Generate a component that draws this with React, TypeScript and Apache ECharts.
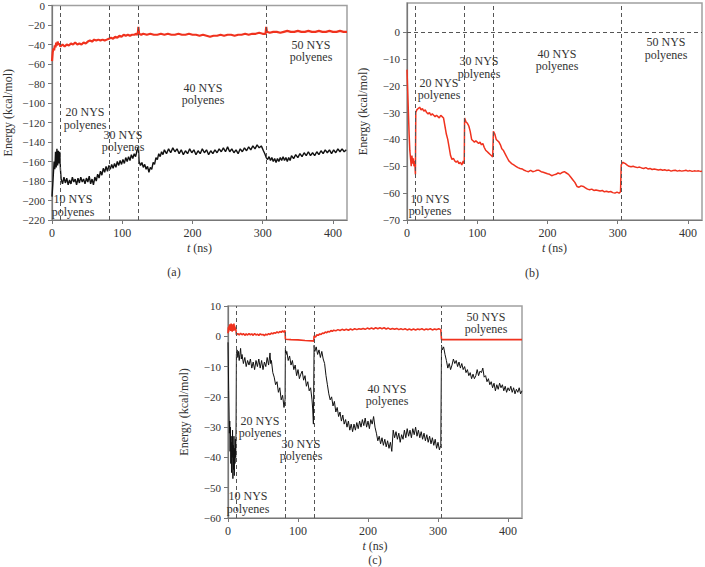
import React, { useEffect, useRef } from "react";
import * as echarts from "echarts";

// phase boundaries (ns) where new NYS polyenes are added
const phaseBoundaries = [12, 82, 123, 305];
const xTickValues = [0, 100, 200, 300, 400];

// Panel (a): red series (upper) and black series (lower), energy kcal/mol
const aRed: number[][] = [
  [0, -57], [1, -48], [2, -44], [3, -46], [4, -41], [5, -43], [6, -38], [7, -41], [8, -37], [9, -40], [10, -39],
  [12, -42], [15, -40], [18, -42], [21, -40], [24, -41], [27, -39], [30, -40], [33, -38], [36, -40], [39, -39],
  [42, -40], [45, -38], [48, -39], [51, -37], [54, -36], [57, -37], [60, -35], [63, -36], [66, -35], [69, -36],
  [72, -35], [75, -36], [78, -35], [81, -34], [84, -33], [87, -34], [90, -32], [93, -33], [96, -31], [99, -32],
  [102, -30], [105, -31], [108, -30], [111, -31], [114, -30], [117, -30], [120, -29], [122, -30], [123, -22],
  [124, -29], [127, -30], [130, -29], [135, -30], [140, -29], [145, -30], [150, -30], [155, -29], [160, -30],
  [165, -29], [170, -30], [175, -30], [180, -29], [185, -30], [190, -30], [195, -29], [200, -30], [205, -30],
  [210, -31], [215, -30], [220, -31], [225, -32], [230, -31], [235, -31], [240, -30], [245, -31], [250, -30],
  [255, -30], [260, -31], [265, -30], [270, -30], [275, -29], [280, -30], [285, -29], [290, -29], [295, -28],
  [300, -29], [304, -29], [305, -22], [306, -27], [310, -28], [315, -27], [320, -27], [325, -28], [330, -27],
  [335, -26], [340, -27], [345, -27], [350, -26], [355, -27], [360, -27], [365, -26], [370, -27], [375, -27],
  [380, -26], [385, -27], [390, -27], [395, -26], [400, -27], [405, -27], [410, -26], [415, -27], [420, -27],
];

const aBlack: number[][] = [
  [0, -196], [1, -185], [2, -172], [3, -160], [4, -168], [5, -150], [6, -166], [7, -147], [8, -164], [9, -149],
  [10, -162], [11, -150], [12, -168], [13, -178], [15, -183], [17, -176], [19, -182], [21, -177], [23, -184],
  [25, -179], [27, -183], [29, -176], [31, -181], [33, -178], [35, -184], [37, -177], [39, -182], [41, -176],
  [43, -181], [45, -178], [47, -183], [49, -177], [51, -181], [53, -175], [55, -183], [57, -178], [59, -184],
  [61, -176], [63, -180], [65, -173], [67, -177], [69, -170], [71, -174], [73, -167], [75, -171], [77, -165],
  [79, -170], [81, -164], [83, -168], [85, -163], [87, -167], [89, -162], [91, -166], [93, -160], [95, -164],
  [97, -159], [99, -163], [101, -158], [103, -162], [105, -156], [107, -160], [109, -155], [111, -159],
  [113, -153], [115, -157], [117, -152], [119, -155], [121, -149], [123, -145], [124, -160], [126, -164],
  [128, -161], [130, -166], [132, -163], [134, -168], [136, -165], [138, -171], [140, -166], [142, -168],
  [144, -161], [146, -163], [148, -156], [150, -158], [152, -152], [154, -155], [156, -150], [158, -153],
  [160, -148], [163, -152], [166, -147], [169, -151], [172, -146], [175, -150], [178, -147], [181, -152],
  [184, -148], [187, -153], [190, -149], [193, -152], [196, -147], [199, -151], [202, -148], [205, -153],
  [208, -149], [211, -152], [214, -147], [217, -151], [220, -148], [223, -153], [226, -149], [229, -152],
  [232, -148], [235, -151], [238, -147], [241, -150], [244, -146], [247, -150], [250, -145], [253, -150],
  [256, -147], [259, -151], [262, -148], [265, -152], [268, -147], [271, -150], [274, -146], [277, -149],
  [280, -145], [283, -148], [286, -144], [289, -147], [292, -143], [295, -146], [298, -144], [301, -149],
  [303, -152], [305, -156], [307, -158], [309, -155], [311, -159], [313, -156], [315, -160], [317, -157],
  [319, -161], [321, -157], [323, -160], [325, -156], [327, -159], [329, -155], [331, -159], [333, -156],
  [335, -160], [337, -156], [339, -159], [341, -154], [344, -157], [347, -153], [350, -156], [353, -152],
  [356, -155], [359, -151], [362, -154], [365, -150], [368, -154], [371, -151], [374, -154], [377, -150],
  [380, -153], [383, -149], [386, -152], [389, -148], [392, -151], [395, -148], [398, -152], [401, -148],
  [404, -151], [407, -147], [410, -150], [413, -147], [416, -150], [419, -148],
];

// Panel (b): red series
const bRed: number[][] = [
  [0, -14], [1, -22], [2, -30], [3, -38], [4, -44], [5, -47], [6, -50], [7, -46], [8, -49], [9, -47], [10, -50],
  [11, -48], [12, -53], [12.5, -30], [14, -29], [16, -28.5], [18, -28], [20, -29], [22, -28.5], [24, -29.5],
  [26, -29], [28, -30], [30, -30.5], [32, -30], [34, -31], [36, -30.5], [38, -31], [40, -31.5], [42, -31],
  [44, -31.5], [46, -32], [48, -31], [50, -31.5], [52, -32], [54, -35], [56, -38], [58, -40], [60, -43],
  [62, -46], [64, -47.5], [66, -47], [68, -48], [70, -48.5], [72, -48], [74, -49], [76, -48.5], [78, -49.5],
  [80, -48], [81.5, -49], [82, -32], [84, -33.5], [86, -34], [88, -35], [90, -37], [92, -40], [94, -40.5],
  [96, -41], [98, -40.5], [100, -41], [102, -41.5], [104, -41], [106, -42], [108, -41.5], [110, -43],
  [112, -44], [114, -44.5], [116, -45], [118, -45.5], [120, -46], [122, -46.5], [123, -37], [125, -38],
  [127, -40], [129, -40.5], [131, -41], [133, -42], [135, -43.5], [137, -44], [139, -45], [141, -46],
  [143, -47], [145, -48], [147, -48.5], [149, -49], [152, -49.5], [155, -50], [158, -50.5], [161, -50.8],
  [164, -51], [167, -51.5], [170, -51.8], [173, -52], [176, -51.5], [179, -52], [182, -51.8], [185, -51.5],
  [188, -51.5], [191, -52], [194, -52.2], [197, -52.5], [200, -52.8], [203, -53], [206, -53.5], [209, -53.2],
  [212, -53], [215, -52.5], [218, -52.8], [221, -52.3], [224, -52], [227, -52.5], [230, -53], [233, -54],
  [236, -55], [239, -56], [242, -57.5], [245, -57.8], [248, -57.3], [251, -57.5], [254, -58], [257, -58.5],
  [260, -58.7], [263, -58.5], [266, -59], [269, -58.8], [272, -59], [275, -59.2], [278, -59], [281, -59.5],
  [284, -59.3], [287, -59.6], [290, -59.4], [293, -59.8], [296, -60], [299, -59.6], [302, -60], [304, -59.5],
  [305, -49.5], [307, -48.5], [309, -48.8], [311, -49], [313, -49.5], [316, -50], [319, -50.2], [322, -50],
  [325, -50.3], [328, -50.5], [331, -50.3], [334, -50.6], [337, -50.8], [340, -50.5], [343, -51], [346, -50.8],
  [349, -51.2], [352, -51], [355, -51.2], [358, -51.4], [361, -51.2], [364, -51.5], [367, -51.3], [370, -51.6],
  [373, -51.4], [376, -51.8], [379, -51.6], [382, -51.5], [385, -51.8], [388, -51.6], [391, -51.8],
  [394, -51.7], [397, -51.5], [400, -51.8], [403, -51.6], [406, -51.9], [409, -51.7], [412, -51.8],
  [415, -51.7], [418, -51.9], [420, -51.8],
];

// Panel (c): red and black series
const cRed: number[][] = [
  [0, 1], [0.5, 3], [1, 1.5], [1.5, 3.5], [2, 2], [2.5, 4], [3, 2], [3.5, 3.8], [4, 1.8], [4.5, 4.2], [5, 2],
  [5.5, 3.5], [6, 1.5], [6.5, 4], [7, 2.2], [7.5, 3.8], [8, 1.8], [8.5, 4.2], [9, 2.5], [9.5, 3.5], [10, 2],
  [11, 3], [12, 0.5], [14, 0.9], [16, 0.4], [18, 1], [20, 0.5], [22, 0.9], [24, 0.3], [26, 0.8], [28, 0.4],
  [30, 0.9], [32, 0.5], [34, 0.8], [36, 0.3], [38, 0.9], [40, 0.4], [42, 0.7], [44, 0.3], [46, 0.8], [48, 0.5],
  [50, 0.6], [52, 0.2], [54, 0.7], [56, 0.4], [58, 0.9], [60, 0.6], [62, 1.1], [64, 0.8], [66, 1.2], [68, 1],
  [70, 1.5], [72, 1.1], [74, 1.6], [76, 1.3], [78, 1.8], [80, 1.4], [81.5, 1.9], [82, -1], [90, -1.1],
  [100, -1.2], [110, -1.4], [120, -1.5], [122.5, -1.6], [123, 0.2], [125, -0.3], [127, 0.5], [129, 0.3],
  [131, 0.8], [133, 0.6], [135, 1.1], [137, 0.9], [139, 1.4], [141, 1.2], [143, 1.6], [145, 1.4], [147, 1.9],
  [149, 1.6], [151, 2], [154, 1.8], [157, 2.2], [160, 1.9], [163, 2.3], [166, 2], [169, 2.3], [172, 2],
  [175, 2.4], [178, 2.1], [181, 2.5], [184, 2.2], [187, 2.5], [190, 2.3], [193, 2.6], [196, 2.3], [199, 2.7],
  [202, 2.4], [205, 2.7], [208, 2.4], [211, 2.8], [214, 2.5], [217, 2.8], [220, 2.5], [223, 2.8], [226, 2.4],
  [229, 2.7], [232, 2.3], [235, 2.6], [238, 2.3], [241, 2.6], [244, 2.2], [247, 2.5], [250, 2.2], [253, 2.5],
  [256, 2.1], [259, 2.4], [262, 2.1], [265, 2.4], [268, 2.1], [271, 2.4], [274, 2.2], [277, 2.5], [280, 2.1],
  [283, 2.4], [286, 2.2], [289, 2.5], [292, 2.1], [295, 2.4], [298, 2.2], [301, 2.5], [304, 2.2], [305, -1.1],
  [420, -1.1],
];

const cBlack: number[][] = [
  [0, -2], [0.5, -10], [1, -18], [1.5, -25], [2, -32], [2.5, -28], [3, -38], [3.5, -30], [4, -42], [4.5, -33],
  [5, -45], [5.5, -35], [6, -40], [6.5, -31], [7, -47], [7.5, -36], [8, -44], [8.5, -33], [9, -46], [9.5, -37],
  [10, -42], [10.5, -34], [11, -40], [11.5, -30], [12, -6], [13, -4.5], [14, -7], [15, -5], [16, -8], [17, -6],
  [18, -4], [19, -7.5], [20, -6], [22, -9], [24, -7], [26, -10], [28, -8], [30, -9.5], [32, -7.5], [34, -10.5],
  [36, -8.5], [38, -11], [40, -8], [42, -10], [44, -7.5], [46, -10.5], [48, -8], [50, -11], [52, -8.5],
  [54, -10], [56, -7], [58, -9.5], [60, -5.5], [61, -9], [62, -8], [64, -12], [66, -13.5], [68, -16], [70, -15],
  [72, -18.5], [74, -17], [76, -21], [78, -19.5], [80, -23.5], [81.5, -21], [82, -4], [83, -6], [84, -5],
  [86, -8], [88, -6.5], [90, -9.5], [92, -8], [94, -11], [96, -9.5], [98, -13], [100, -11], [102, -14],
  [104, -12.5], [106, -11.5], [108, -14.5], [110, -13], [112, -16.5], [114, -15], [116, -18], [118, -17],
  [120, -21], [121, -24], [122, -29], [123, -3], [124, -5], [126, -3.5], [128, -6], [130, -4.5], [132, -7],
  [134, -5], [136, -7.5], [138, -9], [140, -13], [142, -16], [144, -19], [146, -21], [148, -20], [150, -23],
  [152, -21.5], [154, -25], [156, -23.5], [158, -26.5], [160, -25], [162, -28], [164, -26], [166, -29],
  [168, -27.5], [170, -30], [172, -28], [174, -31], [176, -29], [178, -31.5], [180, -29], [182, -31],
  [184, -28.5], [186, -30.5], [188, -28], [190, -30], [192, -27.5], [194, -29.5], [196, -27], [198, -30],
  [200, -28], [202, -30.5], [204, -27.5], [206, -29], [208, -26.5], [210, -30], [212, -32], [214, -34.5],
  [216, -33], [218, -35.5], [220, -33.5], [222, -36], [224, -34], [226, -36.5], [228, -34.5], [230, -37],
  [232, -35], [234, -38], [236, -31], [238, -33.5], [240, -31.5], [242, -34], [244, -32], [246, -35],
  [248, -32.5], [250, -34], [252, -31], [254, -33.5], [256, -30.5], [258, -33], [260, -31], [262, -33.5],
  [264, -30.5], [266, -32.5], [268, -30], [270, -33], [272, -31], [274, -33.5], [276, -31.5], [278, -34],
  [280, -32], [282, -34.5], [284, -32.5], [286, -35], [288, -33], [290, -35.5], [292, -33.5], [294, -36],
  [296, -34], [298, -37], [300, -35], [302, -37.5], [304, -36], [305, -3], [306, -4.5], [308, -3.5], [310, -6],
  [312, -8], [314, -10.5], [316, -9], [318, -11], [320, -9.5], [322, -7.5], [324, -9], [326, -8], [328, -10],
  [330, -8.5], [332, -10.5], [334, -9], [336, -11], [338, -10], [340, -12], [342, -11], [344, -13], [346, -12],
  [348, -14], [350, -12.5], [352, -14], [354, -13], [356, -11], [358, -13], [360, -11.5], [362, -12],
  [364, -10.5], [366, -13.5], [368, -13], [370, -15], [372, -14], [374, -16], [376, -15], [378, -17],
  [380, -15.5], [382, -18], [384, -16], [386, -17.5], [388, -15.5], [390, -17], [392, -16], [394, -18],
  [396, -16.5], [398, -18.5], [400, -17], [402, -18], [404, -16.5], [406, -18.5], [408, -17], [410, -19],
  [412, -17.5], [414, -18.5], [416, -17], [418, -19], [420, -18],
];

const phaseLabels = ["10 NYS\npolyenes", "20 NYS\npolyenes", "30 NYS\npolyenes", "40 NYS\npolyenes", "50 NYS\npolyenes"];
const yTicksA = [-220, -200, -180, -160, -140, -120, -100, -80, -60, -40, -20, 0];
const yTicksB = [-70, -60, -50, -40, -30, -20, -10, 0];
const yTicksC = [-60, -50, -40, -30, -20, -10, 0, 10];

const SERIF = "'Liberation Serif', 'DejaVu Serif', serif";
const RED = "#f0321e";
const BLACK = "#111111";

export default function App() {
  const ref = useRef<HTMLDivElement>(null);
  useEffect(() => {
    if (!ref.current) return;
    const chart = echarts.init(ref.current, undefined, { renderer: "svg" });
    const fmt = (v: number) => (v < 0 ? "\u2212" + Math.abs(v) : String(v));
    const grids = [
      { left: 52, top: 5, width: 295, height: 215 },
      { left: 407, top: 3, width: 295, height: 217 },
      { left: 228, top: 306, width: 294, height: 212 },
    ];
    const yTicks = [yTicksA, yTicksB, yTicksC];
    const yRanges = [[-220, 0], [-70, 10.8], [-60, 10]];
    const yIntervals = [20, 10, 10];
    const xAxes = grids.map((_, i) => ({
      type: "value",
      gridIndex: i,
      min: 0,
      max: 420,
      interval: 100,
      name: "{i|t} (ns)",
      nameLocation: "middle",
      nameGap: 22,
      nameTextStyle: {
        fontFamily: SERIF, fontSize: 12, color: "#333",
        rich: { i: { fontFamily: SERIF, fontSize: 12, fontStyle: "italic", color: "#333" } },
      },
      axisLine: { show: true, onZero: false, lineStyle: { color: "#777", width: 1.2 } },
      axisTick: { show: true, inside: false, length: 4, customValues: xTickValues, lineStyle: { color: "#777" } },
      axisLabel: { customValues: xTickValues, fontFamily: SERIF, fontSize: 12, color: "#333", margin: 7 },
      splitLine: { show: false },
    }));
    const yAxes = grids.map((_, i) => ({
      type: "value",
      gridIndex: i,
      min: yRanges[i][0],
      max: yRanges[i][1],
      interval: yIntervals[i],
      name: "Energy (kcal/mol)",
      nameLocation: "middle",
      nameGap: 38,
      nameTextStyle: { fontFamily: SERIF, fontSize: 12, color: "#333" },
      axisLine: { show: true, onZero: false, lineStyle: { color: "#777", width: 1.2 } },
      axisTick: { show: true, inside: false, length: 4, customValues: yTicks[i], lineStyle: { color: "#777" } },
      axisLabel: { customValues: yTicks[i], formatter: fmt, fontFamily: SERIF, fontSize: 11, color: "#333", margin: 7 },
      splitLine: { show: false },
    }));
    const vLines = (extra: any[] = []) => ({
      silent: true,
      symbol: "none",
      label: { show: false },
      lineStyle: { type: [4, 3], color: "#555", width: 1 },
      data: [...phaseBoundaries.map((t) => ({ xAxis: t })), ...extra],
    });
    const line = (data: number[][], idx: number, color: string, width: number, ml?: any) => ({
      type: "line",
      xAxisIndex: idx,
      yAxisIndex: idx,
      data,
      showSymbol: false,
      symbol: "none",
      lineStyle: { color, width },
      z: 3,
      ...(ml ? { markLine: ml } : {}),
    });
    const txt = (label: string, x: number, y: number) => ({
      type: "text",
      x,
      y,
      style: { text: label, font: `12px ${SERIF}`, fill: "#333", align: "center", verticalAlign: "middle", lineHeight: 12.5 },
      z: 10,
    });
    const title = (label: string, x: number, y: number) => ({
      type: "text", x, y,
      style: { text: label, font: `12px ${SERIF}`, fill: "#333", align: "center", verticalAlign: "middle" },
    });
    chart.setOption({
      animation: false,
      grid: grids.map((g) => ({ ...g, show: true, borderColor: "#a0a0a0", borderWidth: 1.5, backgroundColor: "transparent" })),
      xAxis: xAxes,
      yAxis: yAxes,
      series: [
        line(aBlack, 0, BLACK, 1.4, vLines()),
        line(aRed, 0, RED, 2.2),
        line(bRed, 1, RED, 1.5, vLines([{ yAxis: 0 }])),
        line(cBlack, 2, BLACK, 1, vLines()),
        line(cRed, 2, RED, 1.6),
      ],
      graphic: [
        txt(phaseLabels[0], 73, 205.5), txt(phaseLabels[1], 85, 118.5), txt(phaseLabels[2], 123, 141),
        txt(phaseLabels[3], 203, 94), txt(phaseLabels[4], 311, 51),
        txt(phaseLabels[0], 430, 205), txt(phaseLabels[1], 439, 89), txt(phaseLabels[2], 479, 67.5),
        txt(phaseLabels[3], 557, 60), txt(phaseLabels[4], 666, 48.5),
        txt(phaseLabels[0], 248, 502.5), txt(phaseLabels[1], 260, 427), txt(phaseLabels[2], 301, 450),
        txt(phaseLabels[3], 387, 395), txt(phaseLabels[4], 486, 323),
        title("(a)", 174, 272), title("(b)", 532, 273), title("(c)", 375, 560),
      ],
    });
    return () => chart.dispose();
  }, []);
  return <div ref={ref} style={{ position: "fixed", left: 0, top: 0, width: 705, height: 567, background: "#fff" }} />;
}
